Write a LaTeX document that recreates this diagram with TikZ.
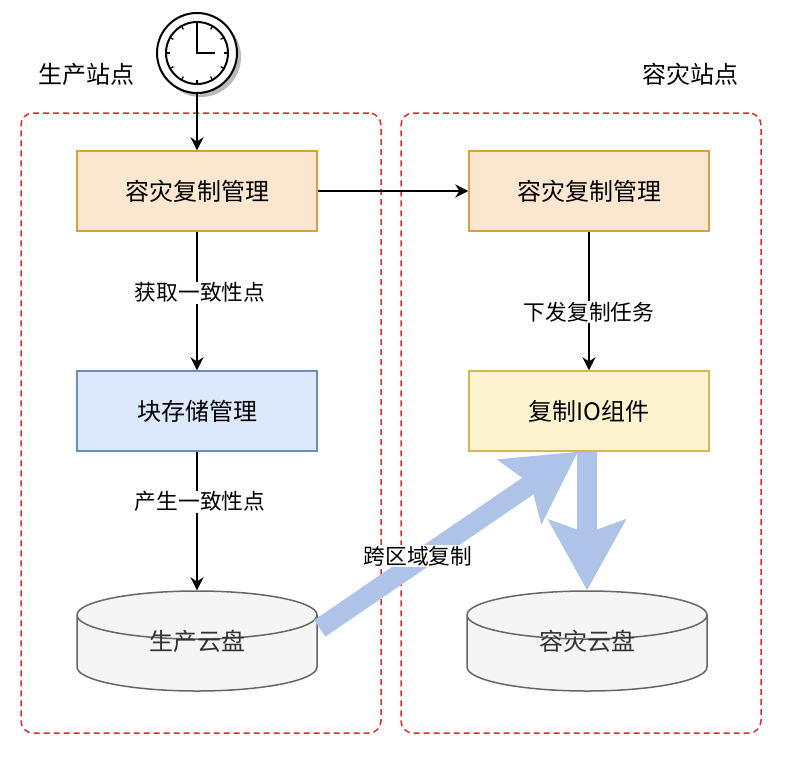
\documentclass[tikz,border=0pt]{standalone}
\usepackage{fontspec}
\setmainfont{Noto Sans CJK SC}
\usepackage{xcolor}
\usetikzlibrary{arrows.meta, shapes.geometric, calc}
\definecolor{SiteRed}{HTML}{E02B2B}
\definecolor{FlowBlue}{HTML}{AEC3E8}
\definecolor{OrangeFill}{HTML}{FBE6CF}
\definecolor{OrangeLine}{HTML}{D8A040}
\definecolor{BlueFill}{HTML}{DCE8FB}
\definecolor{BlueLine}{HTML}{6C8EBF}
\definecolor{YellowFill}{HTML}{FDF3CF}
\definecolor{YellowLine}{HTML}{D6B656}
\tikzset{
  site/.style={draw=SiteRed, line width=1.5pt, dash pattern=on 6pt off 4pt, rounded corners=12pt, minimum width=360pt, minimum height=620pt},
  sitename/.style={font=\fontsize{24}{28}\selectfont},
  mgrbox/.style n args={2}{draw=#1, line width=1.5pt, fill=#2, minimum width=240pt, minimum height=80pt, font=\fontsize{24}{28}\selectfont},
  disk/.style={cylinder, shape border rotate=90, aspect=0.5, anchor=shape center, draw=black!60, line width=1.5pt, fill=black!4, minimum width=240pt, minimum height=100pt, inner sep=0pt, font=\fontsize{24}{28}\selectfont},
  diskname/.style={font=\fontsize{24}{28}\selectfont, text=black!80},
  step label/.style={fill=white, inner sep=1pt, font=\fontsize{21.7}{26}\selectfont},
  flow/.style={-{Stealth[length=13pt, width=13pt]}, line width=1.5pt},
  bigflow/.style={draw=FlowBlue, line width=20pt, -{Stealth[length=70pt, width=76pt, inset=13pt]}},
  clockring/.style={circle, draw, line width=2pt, fill=white, inner sep=0pt},
}
\begin{document}
\begin{tikzpicture}[x=1pt, y=-1pt]
  \useasboundingbox (0,0) rectangle (798,756);

  \node (prod-site) at (201,423)[site] {};
  \node (dr-site) at (581,423)[site] {};
  \node (prod-name) at (86,74)[sitename] {生产站点};
  \node (dr-name) at (690,74)[sitename] {容灾站点};

  % clock
  \fill[black!27] (201,57) circle (40);
  \node (clock) at (197,53)[clockring, minimum size=80pt] {};
  \node (clock-face) at (197,53)[clockring, minimum size=62pt] {};
  \foreach \a in {0,30,...,330}
    \draw[line width=1.2pt] (clock-face.\a) -- ($(clock-face.center)!0.85!(clock-face.\a)$);
  \draw[line width=2pt] (197,25) -- (197,53) -- (215,53);

  \node (prod-mgr) at (197,191)[mgrbox={OrangeLine}{OrangeFill}] {容灾复制管理};
  \node (dr-mgr) at (589,191)[mgrbox={OrangeLine}{OrangeFill}] {容灾复制管理};
  \node (block-mgr) at (197,411)[mgrbox={BlueLine}{BlueFill}] {块存储管理};
  \node (io-unit) at (589,411)[mgrbox={YellowLine}{YellowFill}] {复制IO组件};
  \node (prod-disk) at (197,641)[disk] {\phantom{生产云盘}};
  \node (dr-disk) at (587,641)[disk] {\phantom{容灾云盘}};
  \node (prod-disk-name) at (prod-disk.shape center)[diskname] {生产云盘};
  \node (dr-disk-name) at (dr-disk.shape center)[diskname] {容灾云盘};

  \draw[flow] (clock) -- (prod-mgr);
  \draw[flow] (prod-mgr) -- (dr-mgr);
  \draw[flow] (prod-mgr) -- node[step label, pos=0.44, xshift=3pt] {获取一致性点} (block-mgr);
  \draw[flow] (block-mgr) -- node[step label, pos=0.36, xshift=3pt] {产生一致性点} (prod-disk.north);
  \draw[flow] (dr-mgr) -- node[step label, pos=0.58] {下发复制任务} (io-unit);

  \draw[bigflow] ([xshift=2pt, yshift=25pt]prod-disk.east) -- node[step label, pos=0.38, yshift=5pt] {跨区域复制} ([xshift=-11pt]io-unit.south);
  \draw[bigflow] ([xshift=-2pt]io-unit.south) -- (dr-disk.north);
\end{tikzpicture}
\end{document}
